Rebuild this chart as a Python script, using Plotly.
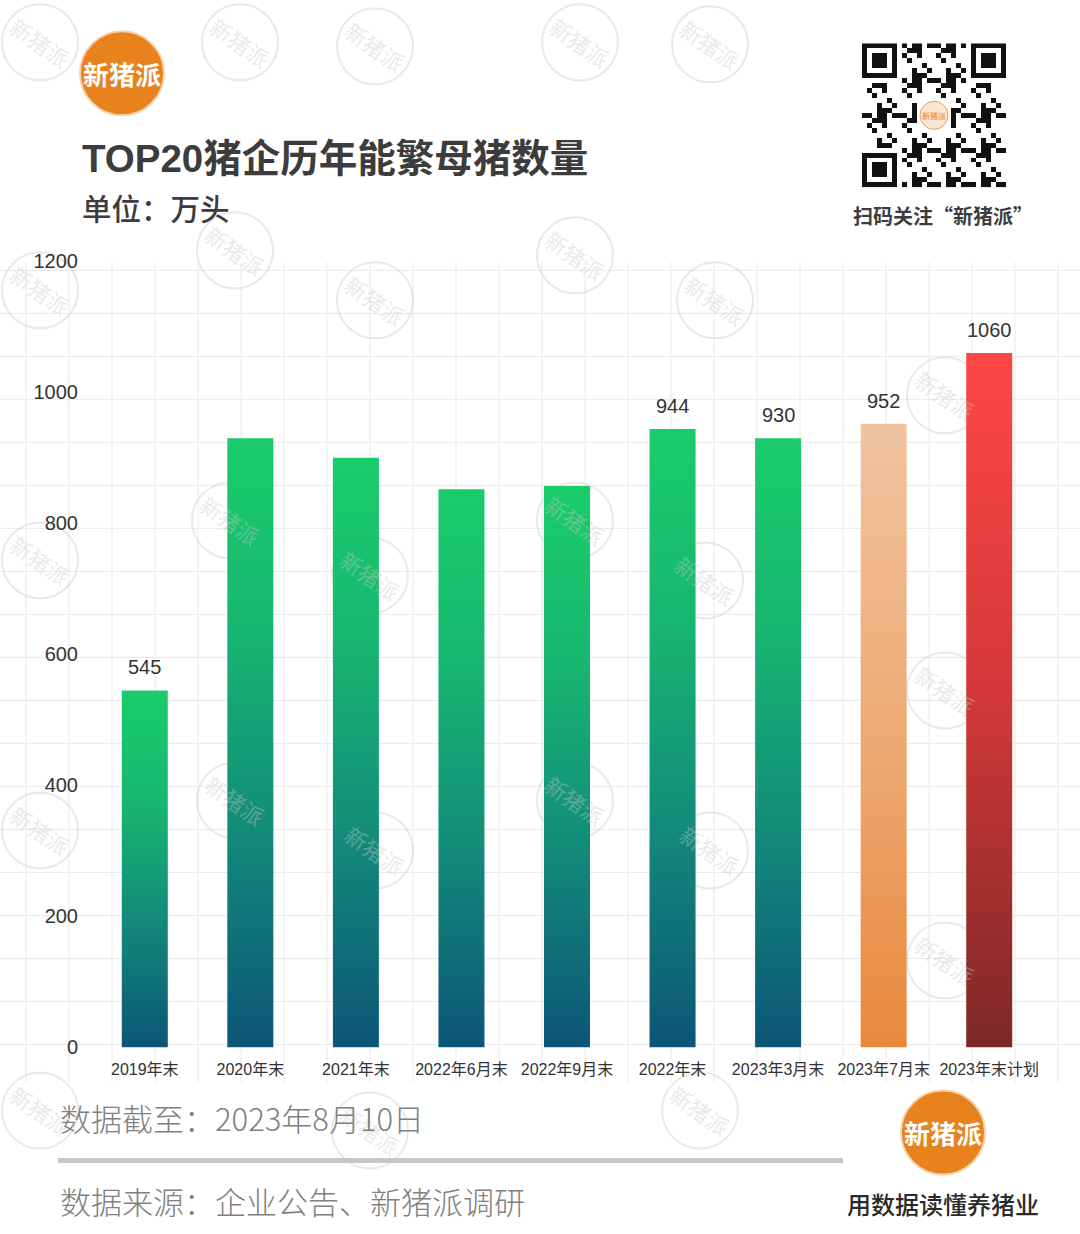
import plotly.graph_objects as go

# ---------------- data ----------------
categories = ["2019年末", "2020年末", "2021年末", "2022年6月末", "2022年9月末",
              "2022年末", "2023年3月末", "2023年7月末", "2023年末计划"]
values = [545, 930, 900, 852, 857, 944, 930, 952, 1060]
show_label = [True, False, False, False, False, True, True, True, True]
bar_style = ["green"] * 7 + ["orange", "red"]

title_text = "TOP20猪企历年能繁母猪数量"
unit_text = "单位：万头"
date_text = "数据截至：2023年8月10日"
source_text = "数据来源：企业公告、新猪派调研"
slogan_text = "用数据读懂养猪业"
qr_text = "扫码关注“新猪派”"
logo_text = "新猪派"

W, H = 1080, 1234
FONT = "Liberation Sans, Noto Sans CJK SC, sans-serif"
CJK = "Noto Sans CJK SC, sans-serif"

# observed vertical rendering: y_screen = A + S * y_design
A_OFF, S_SCL = 10.7, 0.982

def px(x):
    return x / W

def py(y):
    return 1 - ((y - A_OFF) / S_SCL) / H

gradients = {
    "green": [[0, "#0C5577"], [0.35, "#138A7A"], [0.7, "#17B870"], [1, "#1ACC6A"]],
    "orange": [[0, "#E8883C"], [0.5, "#EDAA74"], [1, "#F1C4A0"]],
    "red": [[0, "#7C2828"], [0.5, "#D23838"], [1, "#FF4646"]],
}

fig = go.Figure()

half_w = 0.218
for i, (cat, v, st) in enumerate(zip(categories, values, bar_style)):
    fig.add_trace(go.Scatter(
        x=[i - half_w, i + half_w, i + half_w, i - half_w, i - half_w],
        y=[0, 0, v, v, 0],
        mode="lines", line=dict(width=0), fill="toself",
        fillgradient=dict(type="vertical", colorscale=gradients[st]),
        name=cat, hoverinfo="skip", showlegend=False,
    ))

annotations = []
for i, (v, s) in enumerate(zip(values, show_label)):
    if s:
        annotations.append(dict(x=i, y=v, xref="x", yref="y", text=str(v),
                                showarrow=False, yshift=23,
                                xanchor="center", yanchor="middle",
                                font=dict(family=FONT, size=20, color="#333333")))

# ---------------- QR code (decorative) ----------------
N = 29
qr = [[0] * N for _ in range(N)]
for r in range(N):
    for c in range(N):
        qr[r][c] = 1 if ((r * r * 3 + c * 7 + r * c + c * c) % 7) < 3 else 0

def finder(r0, c0):
    for r in range(-1, 8):
        for c in range(-1, 8):
            rr, cc = r0 + r, c0 + c
            if 0 <= rr < N and 0 <= cc < N:
                qr[rr][cc] = 0
    for r in range(7):
        for c in range(7):
            edge = r in (0, 6) or c in (0, 6)
            core = 2 <= r <= 4 and 2 <= c <= 4
            qr[r0 + r][c0 + c] = 1 if (edge or core) else 0

finder(0, 0)
finder(0, N - 7)
finder(N - 7, 0)
for r in range(11, 18):
    for c in range(11, 18):
        qr[r][c] = 0

fig.add_trace(go.Heatmap(
    z=qr, xaxis="x2", yaxis="y2", showscale=False, hoverinfo="skip",
    colorscale=[[0, "#ffffff"], [1, "#111111"]], zmin=0, zmax=1,
))

# ---------------- shapes ----------------
shapes = []
# background grid texture
gx = 26
while gx < W:
    shapes.append(dict(type="line", xref="paper", yref="paper",
                       x0=px(gx), x1=px(gx), y0=py(262), y1=py(1082),
                       line=dict(color="#eaeaea", width=1), layer="below"))
    gx += 43
gy = 270
while gy < 1082:
    shapes.append(dict(type="line", xref="paper", yref="paper",
                       x0=0, x1=1, y0=py(gy), y1=py(gy),
                       line=dict(color="#eaeaea", width=1), layer="below"))
    gy += 43

# watermarks
wm = [(40, 42), (240, 42), (375, 46), (580, 42), (710, 44),
      (40, 290), (235, 250), (375, 300), (575, 255), (715, 300), (945, 395),
      (40, 560), (230, 520), (370, 575), (575, 520), (705, 580), (945, 690),
      (40, 830), (235, 800), (375, 850), (575, 800), (710, 850), (945, 960),
      (40, 1110), (370, 1130), (700, 1110)]
for (cx, cy) in wm:
    r = 38
    shapes.append(dict(type="circle", xref="paper", yref="paper",
                       x0=px(cx - r), x1=px(cx + r), y0=py(cy + r), y1=py(cy - r),
                       line=dict(color="rgba(200,200,200,0.4)", width=2),
                       layer="below"))
    annotations.append(dict(x=px(cx), y=py(cy), xref="paper", yref="paper",
                            xanchor="center", yanchor="middle",
                            text=logo_text, showarrow=False, textangle=35,
                            font=dict(family=CJK, size=22, color="rgba(200,200,200,0.4)")))

# logos
for (cx, cy) in [(122, 73), (943, 1132)]:
    r = 42
    shapes.append(dict(type="circle", xref="paper", yref="paper",
                       x0=px(cx - r), x1=px(cx + r), y0=py(cy + r), y1=py(cy - r),
                       fillcolor="#E8821C", line=dict(color="#F6D2AE", width=2),
                       layer="above"))
    annotations.append(dict(x=px(cx), y=py(cy), xref="paper", yref="paper",
                            xanchor="center", yanchor="middle",
                            text="<b>%s</b>" % logo_text, showarrow=False,
                            font=dict(family=CJK, size=26, color="white")))

# QR centre logo
shapes.append(dict(type="circle", xref="paper", yref="paper",
                   x0=px(920), x1=px(948), y0=py(129), y1=py(101),
                   fillcolor="#F7E6D4", line=dict(color="#E8A060", width=1),
                   layer="above"))
annotations.append(dict(x=px(934), y=py(115), xref="paper", yref="paper",
                        xanchor="center", yanchor="middle",
                        text=logo_text, showarrow=False,
                        font=dict(family=CJK, size=8, color="#E8821C")))

# footer divider
shapes.append(dict(type="line", xref="paper", yref="paper",
                   x0=px(58), x1=px(843), y0=py(1160), y1=py(1160),
                   line=dict(color="#c6c6c6", width=5)))

# ---------------- texts ----------------
def txt(x, y, text, size, color, anchor="left", family=CJK, weight=None):
    f = dict(family=family, size=size, color=color)
    if weight is not None:
        f["weight"] = weight
    return dict(x=px(x), y=py(y), xref="paper", yref="paper",
                xanchor=anchor, yanchor="middle", text=text,
                showarrow=False, font=f)

annotations += [
    txt(80, 158, "<b>%s</b>" % title_text, 38.5, "#3c3c3c", family=FONT),
    txt(80, 207, unit_text, 29.5, "#3c3c3c", weight=500),
    txt(943, 215, "<b>%s</b>" % qr_text, 20, "#3c3c3c", anchor="center"),
    txt(58, 1117, date_text, 31, "#808080", weight=300),
    txt(58, 1200, source_text, 31, "#808080", weight=300),
    txt(943, 1203, slogan_text, 24, "#2a2a2a", anchor="center", weight=500),
]

fig.update_layout(
    width=W, height=H,
    margin=dict(l=0, r=0, t=0, b=0),
    paper_bgcolor="white", plot_bgcolor="rgba(0,0,0,0)",
    showlegend=False,
    xaxis=dict(domain=[px(92), px(1042)], range=[-0.5, len(categories) - 0.5],
               tickmode="array", tickvals=list(range(len(categories))),
               ticktext=categories, showgrid=False, zeroline=False,
               showline=False, ticks="", ticklabelstandoff=11,
               tickfont=dict(family=FONT, size=16, color="#333333"),
               fixedrange=True),
    yaxis=dict(domain=[py(1047), py(261)], range=[0, 1200], dtick=200,
               showgrid=False, zeroline=False, showline=False, ticks="",
               ticklabelstandoff=13,
               tickfont=dict(family=FONT, size=20, color="#333333"),
               fixedrange=True),
    xaxis2=dict(domain=[px(862), px(1006)], anchor="y2", visible=False,
                range=[-0.5, N - 0.5]),
    yaxis2=dict(domain=[py(187), py(43)], anchor="x2", visible=False,
                range=[N - 0.5, -0.5]),
    shapes=shapes,
    annotations=annotations,
)

fig.write_html(
    "out.html",
    config={"responsive": False, "displayModeBar": False},
    post_script=(
        "document.documentElement.style.margin='0';"
        "document.body.style.margin='0';document.body.style.overflow='hidden';"
        "var gd=document.getElementById('{plot_id}');"
        "gd.style.position='fixed';gd.style.top='0px';gd.style.left='0px';"
    ),
)
